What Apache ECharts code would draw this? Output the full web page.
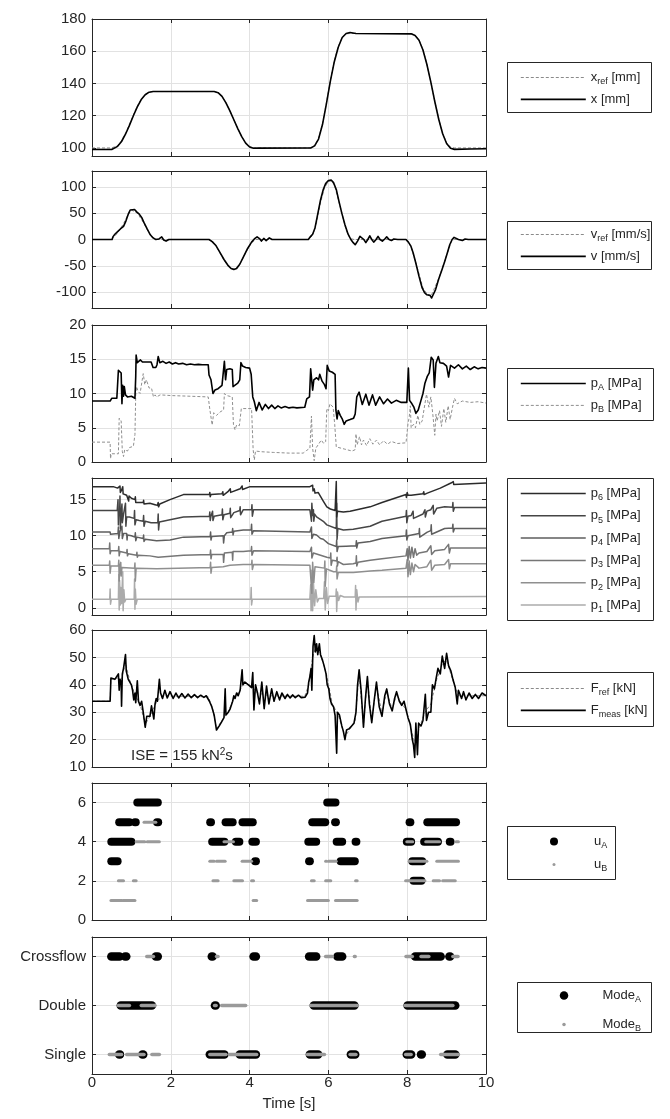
<!DOCTYPE html>
<html>
<head>
<meta charset="utf-8">
<script src="https://cdn.jsdelivr.net/npm/echarts@6/dist/echarts.min.js"></script>
<style>
  html, body { margin: 0; padding: 0; background: #fff; }
  #chart { width: 670px; height: 1119px; }
</style>
</head>
<body>
<div id="chart"></div>
<script>
// ---------- data ----------
const timeTicks = [0, 2, 4, 6, 8, 10];

// position [mm]
const xRef = [[0,100],[0.5,100],[0.55,100.3],[0.65,101.5],[0.75,104.5],[0.85,109],[0.95,114.5],[1.05,120.5],[1.15,126],[1.25,130.3],[1.35,133.2],[1.45,134.6],[1.55,135],[3.1,135],[3.2,134.3],[3.3,132],[3.4,128],[3.5,123],[3.6,117.5],[3.7,112],[3.8,107],[3.9,103.2],[4.0,101],[4.1,100.2],[4.2,100],[5.55,100],[5.65,101.5],[5.75,106],[5.85,115],[5.95,128],[6.05,142],[6.15,154],[6.25,163],[6.35,168.5],[6.45,170.8],[6.55,171],[8.1,171],[8.2,170],[8.3,167],[8.4,161],[8.5,152],[8.6,141],[8.7,129],[8.8,118],[8.9,109],[9.0,103.2],[9.1,100.5],[9.2,100],[10,100]];
const xMeas = [[0,99],[0.5,99],[0.55,99.3],[0.65,101],[0.75,104],[0.85,108.5],[0.95,114],[1.05,120],[1.15,125.5],[1.25,130],[1.35,133],[1.45,134.6],[1.55,135],[3.1,135],[3.2,134.3],[3.3,132],[3.4,128],[3.5,123],[3.6,117.5],[3.7,112],[3.8,107],[3.9,103],[4.0,100.6],[4.1,99.8],[4.2,99.9],[5.55,100],[5.65,101.3],[5.75,105.5],[5.85,114.5],[5.95,127.5],[6.05,141.5],[6.15,153.5],[6.25,162.5],[6.35,168.5],[6.45,171],[6.55,171.6],[6.7,171],[8.1,170.8],[8.2,169.8],[8.3,166.8],[8.4,160.8],[8.5,151.8],[8.6,140.8],[8.7,128.8],[8.8,117.8],[8.9,108.8],[9.0,102.8],[9.1,99.8],[9.2,99.1],[9.6,99.3],[10,99.5]];

// velocity [mm/s]
const vRef = [[0,0],[0.5,0],[0.6,8],[0.7,18],[0.8,30],[0.9,45],[1.0,56],[1.05,57],[1.15,50],[1.3,33],[1.45,12],[1.6,1],[1.7,0],[2.97,0],[3.1,-6],[3.25,-26],[3.4,-45],[3.55,-55],[3.62,-56],[3.75,-47],[3.9,-25],[4.05,-6],[4.15,0],[5.5,0],[5.6,8],[5.7,32],[5.8,70],[5.9,98],[6.0,110],[6.07,111],[6.15,104],[6.3,62],[6.45,18],[6.55,2],[6.65,0],[7.97,0],[8.1,-14],[8.25,-52],[8.4,-92],[8.5,-103],[8.6,-108],[8.65,-107],[8.8,-74],[9.0,-30],[9.12,-4],[9.2,0],[10,0]];
const vMeas = [[0,0],[0.51,0],[0.53,5],[0.58,10],[0.65,15],[0.72,20],[0.8,25],[0.86,35],[0.92,48],[0.97,56],[1.02,59],[1.08,57],[1.14,52],[1.2,48],[1.26,42],[1.32,32],[1.4,20],[1.48,9],[1.55,3],[1.62,0],[1.7,1],[1.77,5],[1.82,-1],[1.88,-3],[1.95,0],[2.0,1],[2.1,0],[2.97,0],[3.05,-4],[3.15,-12],[3.25,-25],[3.35,-38],[3.45,-49],[3.53,-55],[3.6,-57],[3.67,-55],[3.75,-47],[3.85,-32],[3.95,-17],[4.05,-5],[4.12,1],[4.19,5],[4.26,1],[4.3,-3],[4.36,2],[4.42,-2],[4.5,3],[4.57,0],[4.65,0],[5.49,0],[5.55,6],[5.6,10],[5.66,22],[5.72,45],[5.8,75],[5.87,95],[5.93,106],[6.0,112],[6.07,113],[6.13,108],[6.2,95],[6.27,72],[6.34,50],[6.42,28],[6.5,10],[6.57,0],[6.63,-6],[6.68,-10],[6.74,-3],[6.8,6],[6.85,8],[6.9,0],[6.95,-6],[7.0,0],[7.05,7],[7.1,0],[7.15,-5],[7.21,0],[7.26,6],[7.31,0],[7.37,-3],[7.43,1],[7.48,5],[7.54,0],[7.6,-2],[7.66,1],[7.7,2],[7.76,0],[7.97,0],[8.03,-5],[8.09,-12],[8.15,-25],[8.22,-45],[8.3,-70],[8.38,-92],[8.44,-101],[8.5,-105],[8.54,-103],[8.58,-106],[8.62,-111],[8.66,-108],[8.72,-95],[8.8,-75],[8.88,-58],[8.95,-42],[9.02,-25],[9.08,-10],[9.14,0],[9.19,4],[9.24,4],[9.3,0],[9.4,-2],[9.47,1],[9.55,0],[10,0]];

// chamber pressures [MPa]
const pA = [[0,8.9],[0.46,8.9],[0.5,9.3],[0.63,9.3],[0.66,9.2],[0.67,13.4],[0.74,13.0],[0.76,8.5],[0.78,11.2],[0.8,9.6],[0.82,11.0],[0.85,9.8],[0.9,9.5],[1.0,9.6],[1.09,9.3],[1.11,12.5],[1.12,15.6],[1.15,14.5],[1.2,14.4],[1.23,14.9],[1.28,14.6],[1.33,14.8],[1.4,14.6],[1.45,14.8],[1.5,14.6],[1.55,13.8],[1.62,13.8],[1.65,14.2],[1.68,15.4],[1.72,14.5],[1.8,14.7],[1.88,14.4],[1.96,14.6],[2.04,14.3],[2.12,14.5],[2.2,14.3],[2.3,14.4],[2.4,14.2],[2.5,14.3],[2.6,14.2],[2.7,14.25],[2.8,14.2],[2.95,14.2],[2.97,12.7],[3.02,12.0],[3.07,10.0],[3.12,10.5],[3.2,10.7],[3.3,11.2],[3.34,11.3],[3.36,14.7],[3.39,12.0],[3.42,13.5],[3.5,13.6],[3.56,13.5],[3.58,11.0],[3.62,11.2],[3.7,11.5],[3.75,12.0],[3.78,14.5],[3.82,14.0],[3.9,13.8],[4.0,13.7],[4.04,12.8],[4.08,9.5],[4.12,8.8],[4.17,7.5],[4.24,8.7],[4.32,7.6],[4.4,8.4],[4.48,7.8],[4.56,8.3],[4.64,7.8],[4.72,8.2],[4.8,7.9],[4.9,8.1],[5.0,7.9],[5.1,8.0],[5.2,7.9],[5.4,8.0],[5.45,9.2],[5.52,9.5],[5.55,13.6],[5.6,10.5],[5.63,12.0],[5.7,12.3],[5.75,12.0],[5.78,12.8],[5.84,11.8],[5.9,11.3],[5.94,10.7],[5.97,14.1],[6.02,13.3],[6.1,13.1],[6.17,12.8],[6.19,7.6],[6.22,6.3],[6.25,7.5],[6.3,6.8],[6.35,6.3],[6.4,5.5],[6.45,6.0],[6.55,6.2],[6.64,6.4],[6.68,7.0],[6.72,9.5],[6.78,10.2],[6.86,8.4],[6.95,9.9],[7.03,8.3],[7.12,9.8],[7.2,8.3],[7.3,9.5],[7.4,8.5],[7.5,9.2],[7.6,8.6],[7.72,9.0],[7.85,8.7],[7.99,8.7],[8.03,13.7],[8.06,9.0],[8.12,8.5],[8.17,8.0],[8.22,7.1],[8.28,7.6],[8.35,9.0],[8.4,10.0],[8.45,11.5],[8.51,12.5],[8.56,13.0],[8.61,15.3],[8.66,14.9],[8.69,10.9],[8.73,14.4],[8.79,15.4],[8.83,14.5],[8.92,14.4],[9.0,14.0],[9.05,12.4],[9.1,14.1],[9.2,13.7],[9.3,14.2],[9.4,13.6],[9.5,14.0],[9.6,13.5],[9.7,13.9],[9.8,13.6],[9.9,13.8],[10,13.7]];
const pB = [[0,2.9],[0.46,2.9],[0.47,0.5],[0.49,1.2],[0.67,1.2],[0.69,6.4],[0.74,6.0],[0.77,1.5],[0.8,0.8],[0.83,1.8],[0.9,1.6],[0.95,2.1],[1.05,2.3],[1.09,4.0],[1.11,9.8],[1.13,11.0],[1.17,10.3],[1.22,10.0],[1.3,12.9],[1.34,11.3],[1.38,12.0],[1.45,10.8],[1.51,10.8],[1.56,9.5],[1.6,9.8],[1.64,9.5],[1.73,9.8],[2.0,9.7],[2.5,9.6],[2.95,9.5],[2.99,7.7],[3.05,5.4],[3.09,7.2],[3.16,6.8],[3.25,7.3],[3.34,7.6],[3.36,10.0],[3.42,9.7],[3.56,9.5],[3.59,5.5],[3.63,4.7],[3.67,5.4],[3.74,5.3],[3.79,7.8],[4.05,7.8],[4.09,1.8],[4.12,0.3],[4.15,1.6],[4.3,1.5],[4.6,1.4],[5.0,1.3],[5.36,1.3],[5.45,1.7],[5.53,2.0],[5.57,6.7],[5.6,2.0],[5.64,0.2],[5.68,2.0],[5.75,2.6],[5.82,3.2],[5.88,2.7],[5.93,3.0],[5.96,7.8],[6.0,7.5],[6.04,8.5],[6.12,8.0],[6.16,5.5],[6.2,2.2],[6.4,1.9],[6.6,1.6],[6.68,1.8],[6.7,4.1],[6.73,2.5],[6.79,3.7],[6.84,2.5],[6.89,3.2],[6.97,2.4],[7.05,3.4],[7.13,2.6],[7.22,3.2],[7.3,2.5],[7.4,3.1],[7.5,2.6],[7.6,3.0],[7.75,2.7],[7.97,2.8],[8.02,5.6],[8.05,6.5],[8.08,8.2],[8.1,5.0],[8.16,5.5],[8.21,5.0],[8.27,6.8],[8.32,5.5],[8.38,6.0],[8.43,7.8],[8.49,9.9],[8.55,8.0],[8.6,9.5],[8.65,7.0],[8.7,3.9],[8.73,7.0],[8.76,6.0],[8.82,7.5],[8.87,5.2],[8.93,7.8],[8.98,5.8],[9.04,8.2],[9.09,6.2],[9.15,8.0],[9.2,9.3],[9.27,8.5],[9.4,8.9],[9.6,8.7],[9.8,8.8],[10,8.6]];

// supply line pressures [MPa]
const p6 = [[0,16.8],[0.54,16.8],[0.65,16.6],[0.7,16.4],[0.71,16.9],[0.72,16.0],[0.75,16.3],[0.78,16.8],[0.79,15.8],[0.82,16.0],[0.88,15.6],[0.92,15.4],[0.93,14.8],[0.94,15.5],[1.0,15.2],[1.09,15.0],[1.1,15.4],[1.11,14.6],[1.15,14.8],[1.3,14.6],[1.31,14.9],[1.32,14.4],[1.47,14.5],[1.6,14.3],[1.66,14.2],[1.68,14.6],[1.69,14.0],[1.72,14.4],[1.98,15.0],[2.32,15.7],[2.98,15.7],[2.99,16.0],[3.0,15.4],[3.02,15.7],[3.05,15.8],[3.06,15.5],[3.3,15.8],[3.32,16.1],[3.33,15.6],[3.45,16.1],[3.5,16.2],[3.51,16.5],[3.52,16.0],[3.76,16.5],[3.8,16.6],[3.81,16.9],[3.82,16.4],[4.01,16.8],[4.05,16.9],[4.06,16.6],[4.1,16.8],[5.53,16.8],[5.58,16.6],[5.6,17.0],[5.61,16.2],[5.64,16.5],[5.66,15.9],[5.74,16.0],[5.87,14.8],[5.96,14.0],[6.05,13.7],[6.17,13.5],[6.2,17.5],[6.21,12.6],[6.23,13.4],[6.38,13.3],[6.55,13.4],[7.06,14.0],[7.36,14.6],[7.97,15.7],[7.98,15.3],[8.0,16.0],[8.02,15.6],[8.1,15.6],[8.4,15.8],[8.42,16.1],[8.43,15.7],[8.51,15.9],[8.84,16.6],[9.11,17.3],[9.16,17.3],[9.17,17.5],[9.18,17.1],[10,17.3]];
const p5 = [[0,13.5],[0.64,13.5],[0.66,15.0],[0.67,11.5],[0.68,13.3],[0.7,12.8],[0.71,15.5],[0.72,11.0],[0.74,13.0],[0.76,14.4],[0.77,11.8],[0.8,13.0],[0.84,12.8],[0.85,14.5],[0.86,11.3],[0.88,12.6],[0.95,12.6],[1.0,12.5],[1.07,12.4],[1.08,13.5],[1.09,11.5],[1.12,12.2],[1.2,12.1],[1.3,12.0],[1.31,12.8],[1.32,11.3],[1.35,12.0],[1.5,11.8],[1.67,11.8],[1.68,13.0],[1.69,10.8],[1.71,11.9],[1.98,12.2],[2.32,12.6],[2.98,12.7],[2.99,13.3],[3.0,12.1],[3.02,12.7],[3.05,12.6],[3.06,13.4],[3.07,12.1],[3.1,12.7],[3.3,12.9],[3.31,13.7],[3.32,12.2],[3.35,12.9],[3.5,13.1],[3.51,13.8],[3.52,12.5],[3.6,13.2],[3.75,13.5],[3.76,14.0],[3.77,12.9],[3.84,13.6],[4.05,13.6],[4.06,14.3],[4.07,12.7],[4.1,13.6],[5.53,13.6],[5.56,13.5],[5.57,12.0],[5.58,14.5],[5.6,12.8],[5.62,13.6],[5.63,12.0],[5.65,13.0],[5.7,12.6],[5.87,12.0],[5.96,11.5],[6.2,11.0],[6.21,14.5],[6.22,9.5],[6.24,11.0],[6.38,10.8],[6.63,10.9],[7.06,11.3],[7.36,12.0],[7.97,12.7],[7.98,13.5],[7.99,11.8],[8.02,12.7],[8.1,12.8],[8.15,13.4],[8.16,12.4],[8.4,13.0],[8.45,13.6],[8.46,12.6],[8.5,13.4],[8.6,13.6],[8.66,14.2],[8.67,13.0],[8.75,13.8],[8.95,14.0],[9.15,13.95],[9.16,14.6],[9.17,13.4],[9.2,13.9],[10,13.9]];
const p4 = [[0,10.5],[0.46,10.5],[0.47,10.2],[0.66,10.3],[0.67,11.2],[0.68,9.6],[0.71,10.6],[0.75,10.4],[0.76,11.3],[0.77,9.6],[0.8,10.3],[0.88,10.3],[0.89,9.4],[0.9,10.1],[1.0,10.0],[1.09,9.8],[1.1,10.4],[1.11,9.3],[1.14,9.8],[1.3,9.6],[1.31,10.1],[1.32,9.2],[1.35,9.5],[1.64,9.3],[1.98,9.4],[2.32,9.8],[3.0,9.9],[3.01,10.5],[3.02,9.4],[3.04,9.9],[3.33,10.0],[3.34,9.0],[3.36,10.0],[3.42,10.4],[3.56,10.5],[3.57,11.0],[3.58,10.1],[3.6,10.6],[3.84,10.8],[4.04,10.8],[4.05,11.6],[4.06,10.2],[4.1,10.7],[5.53,10.5],[5.56,10.4],[5.57,11.2],[5.58,9.6],[5.62,10.2],[5.7,10.1],[5.8,9.6],[5.87,9.5],[6.0,8.9],[6.2,8.5],[6.21,9.4],[6.22,7.8],[6.25,8.5],[6.45,8.55],[6.7,8.6],[6.71,9.3],[6.72,8.3],[6.75,9.0],[7.06,9.2],[7.36,9.6],[7.97,10.0],[7.98,10.8],[7.99,9.4],[8.02,10.0],[8.3,10.3],[8.31,11.0],[8.32,9.8],[8.51,10.5],[8.6,10.7],[8.61,11.5],[8.62,10.2],[8.95,11.0],[9.15,11.05],[9.16,11.6],[9.17,10.5],[9.2,11.0],[10,11.0]];
const p3 = [[0,8.2],[0.44,8.2],[0.45,9.0],[0.46,7.5],[0.48,7.9],[0.67,7.9],[0.68,8.5],[0.69,7.2],[0.71,7.8],[0.88,7.6],[0.89,8.1],[0.9,7.2],[0.92,7.5],[1.13,7.3],[1.14,7.7],[1.15,7.0],[1.17,7.3],[1.47,7.2],[1.68,7.0],[2.32,7.3],[3.0,7.4],[3.01,8.0],[3.02,6.8],[3.04,7.4],[3.33,7.4],[3.34,6.3],[3.36,7.6],[3.56,7.7],[3.57,6.6],[3.58,7.8],[3.84,7.8],[4.04,7.9],[4.05,8.5],[4.06,7.3],[4.1,7.9],[5.53,7.8],[5.56,7.7],[5.57,8.4],[5.58,6.9],[5.62,7.6],[5.96,7.0],[6.05,6.9],[6.06,7.6],[6.07,5.9],[6.1,6.6],[6.21,6.5],[6.22,7.0],[6.23,5.8],[6.25,6.4],[6.38,6.0],[6.63,6.1],[6.7,6.2],[6.71,7.2],[6.72,5.8],[6.75,6.3],[7.06,6.6],[7.36,6.8],[7.97,7.2],[8.0,8.2],[8.02,6.6],[8.05,8.5],[8.08,6.9],[8.12,8.4],[8.16,7.0],[8.2,8.2],[8.24,7.3],[8.3,7.6],[8.5,7.8],[8.6,8.6],[8.62,7.4],[8.7,7.9],[8.95,8.1],[9.05,8.8],[9.07,7.6],[9.1,8.3],[10,8.3]];
const p2 = [[0,5.9],[0.44,5.9],[0.45,6.5],[0.46,4.8],[0.48,5.8],[0.67,5.8],[0.68,6.6],[0.69,3.7],[0.71,5.7],[0.73,6.3],[0.74,4.4],[0.76,5.6],[1.08,5.5],[1.09,6.2],[1.1,3.7],[1.12,5.5],[1.64,5.4],[3.0,5.6],[3.01,6.3],[3.02,4.8],[3.04,5.6],[3.33,5.7],[3.5,5.9],[3.84,6.0],[4.05,6.0],[4.06,6.6],[4.07,5.3],[4.1,6.0],[5.53,5.9],[5.57,5.9],[5.58,2.0],[5.6,6.3],[5.63,3.5],[5.66,5.7],[5.9,5.5],[5.91,6.5],[5.92,3.0],[5.95,5.4],[6.13,5.0],[6.2,5.0],[6.21,5.8],[6.22,4.0],[6.25,4.9],[6.63,4.9],[7.06,5.1],[7.36,5.2],[7.97,5.5],[8.0,6.7],[8.02,4.3],[8.05,6.5],[8.08,4.6],[8.12,6.2],[8.16,5.0],[8.2,6.0],[8.3,5.5],[8.5,5.7],[8.6,6.6],[8.62,5.2],[8.7,5.9],[8.95,6.0],[9.05,6.7],[9.07,5.4],[9.1,6.1],[10,6.1]];
const p1 = [[0,1.2],[0.45,1.2],[0.46,2.6],[0.47,0.5],[0.49,1.2],[0.67,1.2],[0.68,4.6],[0.69,-0.3],[0.7,3.8],[0.72,0.4],[0.73,2.8],[0.75,0.6],[0.78,5.0],[0.79,-0.4],[0.81,2.5],[0.83,0.8],[0.86,1.2],[1.07,1.2],[1.08,4.0],[1.09,-0.2],[1.1,2.6],[1.12,0.5],[1.15,1.2],[4.03,1.2],[4.04,2.8],[4.05,0.4],[4.07,1.2],[5.53,1.2],[5.55,3.2],[5.56,-0.4],[5.58,5.2],[5.6,-0.4],[5.62,3.5],[5.65,0.3],[5.68,2.5],[5.72,0.8],[5.76,1.3],[5.88,1.3],[5.9,3.6],[5.92,-0.3],[5.95,2.8],[5.98,0.6],[6.02,1.6],[6.19,1.6],[6.2,2.6],[6.21,-0.5],[6.23,2.2],[6.26,1.0],[6.3,1.7],[6.4,1.5],[6.68,1.5],[6.69,3.1],[6.7,-0.3],[6.72,2.5],[6.75,0.8],[6.78,1.5],[10,1.55]];

// force [kN]
const fRef = [[0,34],[0.46,34],[0.48,42],[0.65,42.5],[0.75,42],[0.85,48],[0.95,42],[1.1,36],[1.22,33],[1.35,25.5],[1.47,28.5],[1.55,31],[1.65,34],[1.8,36],[2.2,35.8],[2.95,35.6],[3.05,32],[3.16,24],[3.3,27],[3.45,30],[3.6,35],[3.75,38],[3.88,41],[4.05,39.5],[4.2,37],[4.5,36],[5.4,35.8],[5.5,40],[5.6,50],[5.68,54],[5.8,51],[5.95,44],[6.1,33],[6.25,29],[6.42,21],[6.55,24],[6.68,27],[6.78,44],[6.89,25.5],[6.99,42],[7.1,27],[7.22,40],[7.36,29.5],[7.48,37.5],[7.62,31],[7.73,36.5],[7.86,33],[7.97,31],[8.1,24],[8.2,18],[8.3,24],[8.45,30],[8.6,33],[8.75,42],[8.9,48],[9.0,49],[9.15,42],[9.3,36],[9.5,36],[10,36]];
const fMeas = [[0,34],[0.46,34],[0.48,42.5],[0.52,43],[0.58,42],[0.63,41.5],[0.67,44],[0.69,38],[0.71,42],[0.74,41],[0.75,32.2],[0.77,44],[0.8,46],[0.83,49],[0.85,51],[0.87,45],[0.92,42],[0.96,41],[1.0,40],[1.03,38],[1.06,34.5],[1.09,37],[1.11,33.5],[1.15,41.5],[1.18,34],[1.22,32.5],[1.26,34],[1.3,30],[1.35,24.5],[1.39,28.5],[1.47,28.5],[1.51,32.3],[1.54,32.5],[1.57,27.5],[1.6,33],[1.63,35],[1.66,34],[1.71,42],[1.74,37],[1.79,35],[1.85,38],[1.91,35.2],[1.98,37.5],[2.06,35],[2.13,37],[2.2,35.2],[2.28,36.8],[2.36,35.2],[2.44,36.6],[2.52,35.3],[2.6,36.4],[2.68,35.3],[2.76,36.2],[2.84,35.4],[2.9,36],[2.95,35.5],[2.98,34],[3.04,32],[3.1,29],[3.16,23.5],[3.23,25],[3.29,26.5],[3.35,28],[3.38,38.5],[3.4,29],[3.46,30],[3.5,31],[3.57,34],[3.6,36],[3.63,35],[3.67,37],[3.71,36],[3.76,38],[3.81,45.5],[3.83,40],[3.88,41],[3.97,40],[4.05,39],[4.08,44.5],[4.11,30.8],[4.15,40],[4.2,37],[4.25,33],[4.31,41],[4.37,31.3],[4.43,39.5],[4.49,33],[4.56,38.5],[4.62,34],[4.69,37.5],[4.76,34.5],[4.82,37],[4.9,35],[4.96,36.5],[5.03,35.2],[5.09,36.3],[5.16,35.3],[5.24,36.2],[5.31,35.3],[5.36,36],[5.41,35.5],[5.47,37],[5.5,41],[5.53,43],[5.56,46],[5.58,38],[5.61,54],[5.64,58],[5.67,52],[5.7,55],[5.73,51],[5.77,55],[5.8,51],[5.85,49],[5.89,47],[5.94,44],[5.97,40],[6.01,38.5],[6.04,35],[6.08,33],[6.13,32],[6.17,28.8],[6.21,15],[6.23,30],[6.28,29],[6.34,25],[6.38,23],[6.42,20],[6.46,23.5],[6.53,24],[6.59,25],[6.65,26],[6.7,30],[6.74,40],[6.78,45.5],[6.83,38],[6.89,24.5],[6.94,35],[6.99,43],[7.04,33],[7.1,26.2],[7.16,34],[7.22,41],[7.29,32],[7.36,28.5],[7.43,36],[7.48,38.5],[7.55,33],[7.62,30.5],[7.68,35],[7.73,37.5],[7.8,34],[7.86,32.5],[7.92,34],[7.97,31],[8.02,28],[8.08,25.5],[8.13,20],[8.16,18],[8.19,13.5],[8.22,26],[8.26,14.5],[8.29,26],[8.35,25],[8.4,27],[8.46,36.5],[8.49,27],[8.54,30],[8.6,30],[8.64,40],[8.69,38.5],[8.73,42],[8.78,46],[8.84,44],[8.89,50.5],[8.95,46],[9.0,51.5],[9.05,47],[9.11,45],[9.16,42],[9.22,39],[9.27,33],[9.3,38],[9.38,35],[9.43,37.5],[9.49,34.5],[9.57,37],[9.65,35],[9.73,36.5],[9.81,35],[9.9,37],[10,36]];

// valve input levels: runs [tStart, tEnd, level]
const uA = [[0.69,0.95,5],[1.09,1.11,5],[1.65,1.68,5],[1.15,1.67,6],[0.49,1.0,4],[0.49,0.65,3],
  [3.0,3.02,5],[3.39,3.57,5],[3.82,4.08,5],[3.05,3.36,4],[3.65,3.74,4],[4.07,4.16,4],[4.14,4.16,3],
  [5.97,6.18,6],[5.59,5.92,5],[6.17,6.19,5],[5.49,5.69,4],[6.21,6.35,4],[6.69,6.71,4],[5.51,5.53,3],[6.31,6.67,3],
  [8.06,8.08,5],[8.51,9.24,5],[7.99,8.1,4],[8.43,8.78,4],[9.08,9.1,4],[8.13,8.38,3],[8.16,8.36,2]];
const uB = [[1.32,1.62,5],[1.12,1.34,4],[1.4,1.71,4],[0.67,0.8,2],[1.05,1.12,2],[0.48,0.76,1],[0.79,1.09,1],
  [3.35,3.59,4],[2.99,3.1,3],[3.16,3.38,3],[3.81,4.05,3],[3.07,3.2,2],[3.6,3.82,2],[4.05,4.1,2],[4.09,4.18,1],
  [5.93,5.95,3],[6.0,6.2,3],[5.57,5.64,2],[5.93,6.06,2],[6.69,6.73,2],[5.47,6.0,1],[6.18,6.73,1],
  [7.99,8.14,4],[8.47,8.82,4],[9.24,9.3,4],[8.05,8.5,3],[8.75,9.3,3],[7.96,8.45,2],[8.66,8.82,2],[8.9,9.22,2]];

// operating modes: 1 = Single, 2 = Double, 3 = Crossflow
const modeNames = ['', 'Single', 'Double', 'Crossflow'];
const modeA = [[0.49,0.7,3],[0.84,0.87,3],[1.62,1.67,3],[3.04,3.06,3],[4.1,4.16,3],[5.51,5.69,3],[6.23,6.35,3],[8.2,8.85,3],[9.07,9.09,3],
  [0.73,1.52,2],[3.12,3.14,2],[5.63,6.66,2],[8.01,9.22,2],
  [0.69,0.71,1],[1.28,1.3,1],[2.99,3.36,1],[3.75,4.16,1],[5.53,5.74,1],[6.57,6.68,1],[7.99,8.1,1],[8.35,8.37,1],[9.02,9.22,1]];
const modeB = [[1.39,1.56,3],[3.16,3.2,3],[5.93,6.1,3],[6.66,6.68,3],[7.97,8.13,3],[8.35,8.55,3],[9.16,9.29,3],
  [0.67,0.95,2],[1.25,1.6,2],[3.11,3.15,2],[3.29,3.9,2],[5.55,6.73,2],[7.95,9.16,2],
  [0.44,0.75,1],[0.88,1.32,1],[1.52,1.71,1],[2.99,3.4,1],[3.49,4.18,1],[5.47,5.9,1],[6.55,6.7,1],[7.96,8.1,1],[8.85,9.3,1]];

// ---------- layout & style ----------
const FONT = '"Liberation Sans", Arial, Helvetica, sans-serif';
const AX = '#262626';
const GRID = '#e2e2e2';
const PLOT_LEFT = 92, PLOT_W = 394, PLOT_H = 137;
const tops = [19, 171, 325, 478, 630, 783, 937];
const yConf = [
  { min: 95, max: 180, ticks: [100, 120, 140, 160, 180] },
  { min: -130, max: 130, ticks: [-100, -50, 0, 50, 100] },
  { min: 0, max: 20, ticks: [0, 5, 10, 15, 20] },
  { min: -1, max: 18, ticks: [0, 5, 10, 15] },
  { min: 10, max: 60, ticks: [10, 20, 30, 40, 50, 60] },
  { min: 0, max: 7, ticks: [0, 2, 4, 6] },
  { min: 0.6, max: 3.4, ticks: [1, 2, 3] }
];

const grids = [], xAxes = [], yAxes = [];
const line = { show: true, onZero: false, lineStyle: { color: AX, width: 1 } };
const tick = (vals) => ({ show: true, inside: true, length: 4, lineStyle: { color: AX, width: 1 }, customValues: vals });
const split = { show: true, lineStyle: { color: GRID, width: 1 } };
tops.forEach((top, i) => {
  grids.push({ left: PLOT_LEFT, width: PLOT_W, top: top, height: PLOT_H });
  const last = i === tops.length - 1;
  xAxes.push({
    type: 'value', gridIndex: i, position: 'bottom', min: 0, max: 10, interval: 2,
    axisLine: line, axisTick: tick(timeTicks), splitLine: split,
    axisLabel: { show: last, customValues: timeTicks, margin: 1, fontSize: 15, color: AX, fontFamily: FONT },
    name: last ? 'Time [s]' : '', nameLocation: 'middle', nameGap: 22,
    nameTextStyle: { fontSize: 15, color: AX, fontFamily: FONT, verticalAlign: 'top' }
  });
  xAxes.push({
    type: 'value', gridIndex: i, position: 'top', min: 0, max: 10, interval: 2,
    axisLine: line, axisTick: tick(timeTicks), splitLine: { show: false }, axisLabel: { show: false }
  });
  const yc = yConf[i];
  yAxes.push({
    type: 'value', gridIndex: i, position: 'left', min: yc.min, max: yc.max,
    axisLine: line, axisTick: tick(yc.ticks), splitLine: split,
    axisLabel: {
      customValues: yc.ticks, margin: 6, fontSize: 15, color: AX, fontFamily: FONT,
      formatter: last ? (v) => modeNames[Math.round(v)] : (v) => String(v)
    }
  });
  yAxes.push({
    type: 'value', gridIndex: i, position: 'right', min: yc.min, max: yc.max,
    axisLine: line, axisTick: tick(yc.ticks), splitLine: { show: false }, axisLabel: { show: false }
  });
});

function lineSeries(name, panel, data, color, width, dashed, z) {
  return {
    type: 'line', name: name, xAxisIndex: 2 * panel, yAxisIndex: 2 * panel, data: data,
    symbol: 'none', showSymbol: false, animation: false, z: z || 2,
    lineStyle: { color: color, width: width, type: dashed ? [3, 2] : 'solid', join: 'round' },
    itemStyle: { color: color }
  };
}

// capsule runs for discrete signals
function runSeries(name, panel, runs, color, width, z) {
  return {
    type: 'custom', name: name, xAxisIndex: 2 * panel, yAxisIndex: 2 * panel,
    data: runs, encode: { x: [0, 1], y: 2 }, animation: false, z: z, clip: true,
    itemStyle: { color: color },
    renderItem: function (params, api) {
      const a = api.coord([api.value(0), api.value(2)]);
      const b = api.coord([api.value(1), api.value(2)]);
      return {
        type: 'line', shape: { x1: a[0], y1: a[1], x2: b[0], y2: b[1] },
        style: { stroke: color, lineWidth: width, lineCap: 'round', fill: null }
      };
    }
  };
}

const series = [
  lineSeries('xref', 0, xRef, '#8a8a8a', 1, true, 2),
  lineSeries('x', 0, xMeas, '#000', 1.6, false, 3),
  lineSeries('vref', 1, vRef, '#8a8a8a', 1, true, 2),
  lineSeries('v', 1, vMeas, '#000', 1.6, false, 3),
  lineSeries('pA', 2, pA, '#000', 1.6, false, 3),
  lineSeries('pB', 2, pB, '#8f8f8f', 1, true, 2),
  lineSeries('p6', 3, p6, '#2b2b2b', 1.5, false, 8),
  lineSeries('p5', 3, p5, '#454545', 1.5, false, 7),
  lineSeries('p4', 3, p4, '#5e5e5e', 1.5, false, 6),
  lineSeries('p3', 3, p3, '#767676', 1.5, false, 5),
  lineSeries('p2', 3, p2, '#8f8f8f', 1.5, false, 4),
  lineSeries('p1', 3, p1, '#ababab', 1.5, false, 3),
  lineSeries('Fref', 4, fRef, '#8a8a8a', 1, true, 2),
  lineSeries('Fmeas', 4, fMeas, '#000', 1.6, false, 3),
  runSeries('uA', 5, uA, '#000', 8, 3),
  runSeries('uB', 5, uB, '#9a9a9a', 3, 4),
  runSeries('ModeA', 6, modeA, '#000', 8.5, 3),
  runSeries('ModeB', 6, modeB, '#9a9a9a', 3.5, 4)
];

// legend text with subscripts
const labelText = {
  xref: '{m|x}{s|ref}{m| [mm]}', x: '{m|x [mm]}',
  vref: '{m|v}{s|ref}{m| [mm/s]}', v: '{m|v [mm/s]}',
  pA: '{m|p}{s|A}{m| [MPa]}', pB: '{m|p}{s|B}{m| [MPa]}',
  p6: '{m|p}{s|6}{m| [MPa]}', p5: '{m|p}{s|5}{m| [MPa]}', p4: '{m|p}{s|4}{m| [MPa]}',
  p3: '{m|p}{s|3}{m| [MPa]}', p2: '{m|p}{s|2}{m| [MPa]}', p1: '{m|p}{s|1}{m| [MPa]}',
  Fref: '{m|F}{s|ref}{m| [kN]}', Fmeas: '{m|F}{s|meas}{m| [kN]}',
  uA: '{m|u}{s|A}', uB: '{m|u}{s|B}',
  ModeA: '{m|Mode}{s|A}', ModeB: '{m|Mode}{s|B}'
};
const rich = {
  m: { fontSize: 13, fontFamily: FONT, color: AX, lineHeight: 18 },
  s: { fontSize: 9, fontFamily: FONT, color: AX, verticalAlign: 'bottom', lineHeight: 10 }
};
const seriesStyle = {};
series.forEach(s => { seriesStyle[s.name] = s; });

function lineLegend(names, left, top, gap) {
  return {
    orient: 'vertical', left: left, top: top, padding: 0, itemGap: gap,
    itemWidth: 65, itemHeight: 10, selectedMode: false, z: 10,
    data: names.map(n => {
      const s = seriesStyle[n];
      return {
        name: n,
        itemStyle: { color: 'rgba(0,0,0,0)', borderWidth: 0 },
        lineStyle: { color: s.lineStyle.color, width: s.lineStyle.width, type: s.lineStyle.type }
      };
    }),
    formatter: n => labelText[n],
    textStyle: { rich: rich }
  };
}
// the legend box starts at the visible marker, so left is the marker's left edge
function dotLegend(name, markerX, top, w, size, color) {
  return {
    orient: 'vertical', left: markerX - size / 2, top: top, padding: 0, itemGap: 0,
    itemWidth: w, itemHeight: size, selectedMode: false, z: 10,
    data: [{ name: name, icon: 'circle', itemStyle: { color: color, borderWidth: 0 } }],
    formatter: n => labelText[n],
    textStyle: { rich: rich }
  };
}

const legends = [
  lineLegend(['xref', 'x'], 520, 71, 6.4),
  lineLegend(['vref', 'v'], 520, 228, 6.4),
  lineLegend(['pA', 'pB'], 520, 377, 6.4),
  lineLegend(['p6', 'p5', 'p4', 'p3', 'p2', 'p1'], 520, 487, 6.8),
  lineLegend(['Fref', 'Fmeas'], 520, 682, 6.4),
  dotLegend('uA', 554, 835, 70, 8, '#000'),
  dotLegend('uB', 554, 858, 70, 3, '#9a9a9a'),
  dotLegend('ModeA', 564, 989, 67, 8.5, '#000'),
  dotLegend('ModeB', 564, 1018, 67, 3.5, '#9a9a9a')
];

// legend frames
const frames = [
  [507, 62, 144, 50], [507, 221, 144, 48], [507, 368, 146, 52], [507, 478, 146, 142],
  [507, 672, 146, 54], [507, 826, 108, 53], [517, 982, 134, 50]
];
const graphics = frames.map(f => ({
  type: 'rect', z: 1,
  shape: { x: f[0] + 0.5, y: f[1] + 0.5, width: f[2], height: f[3] },
  style: { fill: '#fff', stroke: AX, lineWidth: 1 }
}));
graphics.push({
  type: 'text', z: 20, x: 131, y: 756,
  style: {
    text: '{a|ISE = 155 kN}{b|2}{a|s}', verticalAlign: 'middle',
    rich: {
      a: { fontSize: 15, fontFamily: FONT, fill: AX, lineHeight: 18 },
      b: { fontSize: 10, fontFamily: FONT, fill: AX, verticalAlign: 'top', lineHeight: 10 }
    }
  }
});

const chart = echarts.init(document.getElementById('chart'), null, { renderer: 'canvas' });
chart.setOption({
  backgroundColor: '#fff',
  animation: false,
  grid: grids,
  xAxis: xAxes,
  yAxis: yAxes,
  legend: legends,
  graphic: graphics,
  series: series
});
</script>
</body>
</html>
